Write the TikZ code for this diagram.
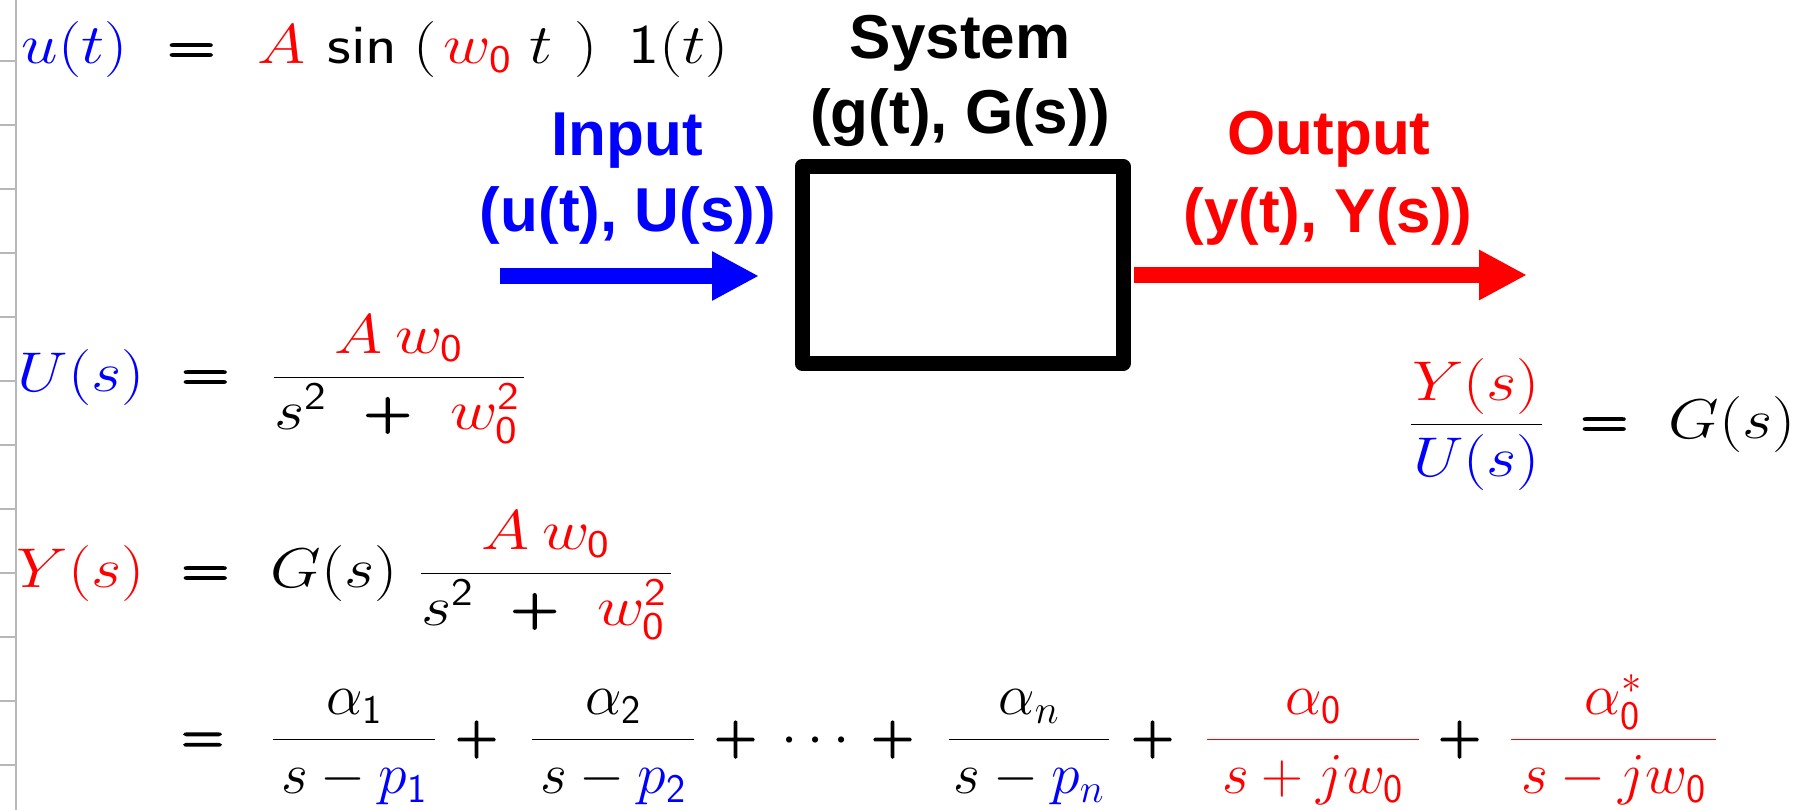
\RequirePackage{fix-cm}
\documentclass[tikz,border=0pt]{standalone}
\usepackage{amsmath}
\usepackage{graphicx}
\usepackage{fontspec}
\usetikzlibrary{arrows.meta}
\newfontfamily\labfont{Liberation Sans}
\newfontfamily\eqfont{Latin Modern Roman}[FakeBold=3]
\newcommand\myzero{\mathsf{0}}
\newcommand\myone{\mathsf{1}}
\newcommand\mytwo{\mathsf{2}}
\newcommand\beq{{\text{\eqfont =}}}
\newcommand\bplus{{\text{\eqfont +}}}
\newcommand\myred[1]{\textcolor{red}{#1}}
\newcommand\myblue[1]{\textcolor{blue}{#1}}
\newcommand\sx{0.8547}
\newcommand\at[2]{\makebox[0pt][l]{\kern\sx\dimexpr#1pt\relax$#2$}}
\newcommand\fracbox[2]{\makebox[\sx\dimexpr#1pt\relax][l]{#2}}
\begin{document}
\begin{tikzpicture}[x=1pt,y=-1pt,
  eqs/.style={inner sep=0pt, anchor=base west, font=\fontsize{56}{56}\selectfont},
  eq/.style={inner sep=0pt, anchor=base west, font=\fontsize{58}{58}\selectfont},
  lab/.style={inner sep=0pt, anchor=base, font=\labfont\bfseries\fontsize{62}{62}\selectfont},
  ruler/.style={draw=black!28, line width=2pt},
  sysbox/.style={draw, line width=15pt, line join=round, minimum width=321pt, minimum height=197pt, inner sep=0pt},
  inarrow/.style={draw=blue, line width=16pt, -{Triangle[length=47pt,width=46pt]}},
  outarrow/.style={draw=red, line width=16pt, -{Triangle[length=48pt,width=47pt]}}]
\useasboundingbox (0,0) rectangle (1801,810);
% ruler
\draw[ruler] (15.5,0) -- (15.5,810);
\foreach \k in {0,...,11} \draw[ruler] (0,61+64*\k) -- (15.5,61+64*\k);
% system block
\node[sysbox] (sys) at (962.5,265) {};
\coordinate (inS) at (500,276);
\coordinate (outE) at (1527,275);
\draw[inarrow, shorten >=35.5pt] (inS) -- (sys.west |- inS);
\draw[outarrow, shorten <=3.5pt] (sys.east |- outE) -- (outE);
% labels
\node[lab] (systop) at (960,59) {System};
\node[lab] (sysbot) at (960,134) {(g(t), G(s))};
\node[lab, text=blue] (intop) at (627,156) {Input};
\node[lab, text=blue] (inbot) at (628,232) {(u(t), U(s))};
\node[lab, text=red] (outtop) at (1329,155) {Output};
\node[lab, text=red] (outbot) at (1328,233) {(y(t), Y(s))};
% equations
\node[eqs] (e1) at (21,64) {\scalebox{1.17}[1]{\at{0}{\myblue{u(t)}}\at{146}{\beq}\at{236}{\myred{A}}\at{306}{\mathsf{sin}}\at{392}{(}\at{422}{\myred{w_{\myzero}}}\at{508}{t}\at{553}{)}\at{607}{\myone(t)}}};
\node[eqs] (e2) at (17,391) {\scalebox{1.17}[1]{\at{0}{\myblue{U(s)}}\at{164}{\beq}\at{255}{\dfrac{\fracbox{250}{\at{60}{\myred{A}}\at{121}{\myred{w_{\myzero}}}}}{\fracbox{250}{\at{0}{s^{\mytwo}}\at{90}{\bplus}\at{176}{\myred{w_{\myzero}^{\mytwo}}}}}}}};
\node[eqs] (e3) at (16,587) {\scalebox{1.17}[1]{\at{0}{\myred{Y(s)}}\at{165}{\beq}\at{254}{G(s)}\at{403}{\dfrac{\fracbox{250}{\at{60}{\myred{A}}\at{121}{\myred{w_{\myzero}}}}}{\fracbox{250}{\at{0}{s^{\mytwo}}\at{90}{\bplus}\at{176}{\myred{w_{\myzero}^{\mytwo}}}}}}}};
\node[eq] (e4) at (0,754) {\def\sx{1}\at{181}{\beq}\at{271}{\dfrac{\makebox[162pt]{$\alpha_{\myone}$}}{s-\myblue{p_{\myone}}}}\at{455}{\bplus}\at{530}{\dfrac{\makebox[162pt]{$\alpha_{\mytwo}$}}{s-\myblue{p_{\mytwo}}}}\at{714}{\bplus}\at{781}{\cdots}\at{871}{\bplus}\at{947}{\dfrac{\makebox[160pt]{$\alpha_{n}$}}{s-\myblue{p_{n}}}}\at{1131}{\bplus}\at{1205}{\myred{\dfrac{\makebox[212pt]{$\alpha_{\myzero}$}}{s+jw_{\myzero}}}}\at{1438}{\bplus}\at{1509}{\myred{\dfrac{\makebox[205pt]{$\alpha^{*}_{\myzero}$}}{s-jw_{\myzero}}}}};
\node[eqs] (e5) at (1409,438) {\scalebox{1.17}[1]{\at{0}{\dfrac{\fracbox{131}{\hfil$\myred{Y(s)}$\hfil}}{\myblue{U(s)}}}\at{171}{\beq}\at{259}{G(s)}}};
\end{tikzpicture}
\end{document}
